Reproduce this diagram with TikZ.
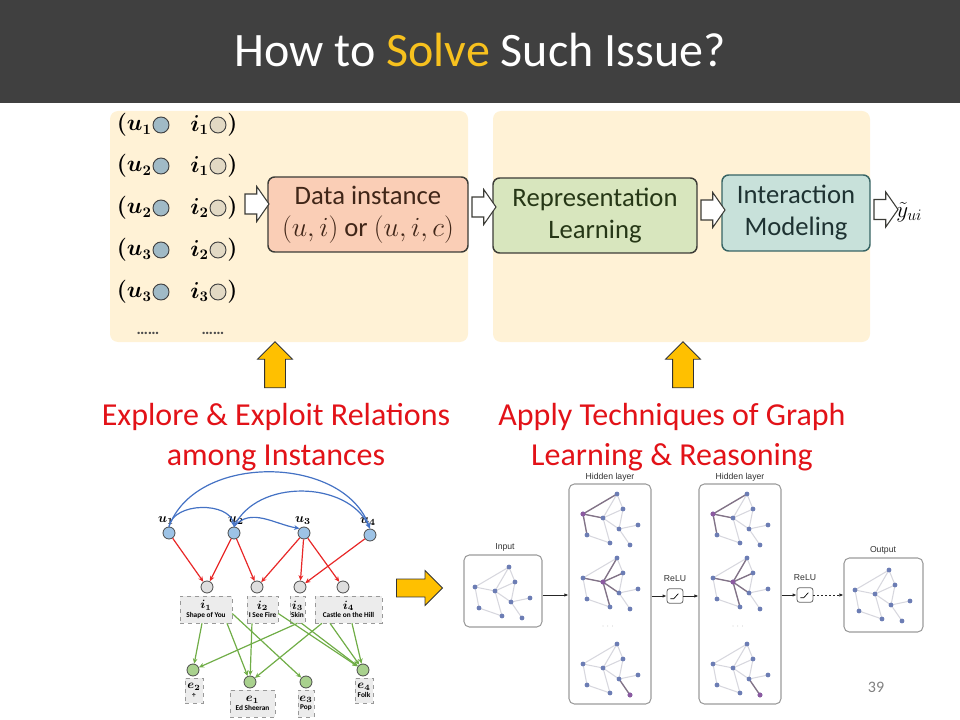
\documentclass[tikz,border=0pt]{standalone}
\usepackage{fontspec}
\setmainfont{Carlito}
\newfontfamily\helv{Liberation Sans}
\usepackage{bm}
\usetikzlibrary{shapes.arrows,arrows.meta}
\definecolor{hdr}{RGB}{64,64,64}
\definecolor{solvec}{RGB}{247,193,30}
\definecolor{panelc}{RGB}{255,242,214}
\definecolor{datafill}{RGB}{250,206,182}
\definecolor{datatxt}{RGB}{64,38,24}
\definecolor{repfill}{RGB}{216,230,190}
\definecolor{reptxt}{RGB}{38,55,22}
\definecolor{intfill}{RGB}{200,225,218}
\definecolor{intdraw}{RGB}{55,100,100}
\definecolor{inttxt}{RGB}{30,50,50}
\definecolor{boxdraw}{RGB}{60,60,55}
\definecolor{ucol}{RGB}{160,186,198}
\definecolor{icol}{RGB}{226,217,196}
\definecolor{redt}{RGB}{226,18,24}
\definecolor{ambr}{RGB}{255,192,0}
\definecolor{bluearc}{RGB}{68,114,196}
\definecolor{redarr}{RGB}{232,40,40}
\definecolor{greenarr}{RGB}{112,173,71}
\definecolor{ublue}{RGB}{157,195,230}
\definecolor{igray}{RGB}{222,222,222}
\definecolor{egreen}{RGB}{169,209,142}
\definecolor{lblbox}{RGB}{236,236,236}
\definecolor{gnodec}{RGB}{108,125,180}
\definecolor{hnodec}{RGB}{140,90,160}
\definecolor{gedgec}{RGB}{215,215,222}
\definecolor{hedgec}{RGB}{130,115,135}
\definecolor{gbox}{RGB}{155,155,155}
\definecolor{gtxt}{RGB}{50,50,50}
\newcommand\gcngraph[5]{%
\begin{scope}[shift={(#1,#2)}]
 \path (48,10) coordinate (#3A) (14,30) coordinate (#3B) (34,34) coordinate (#3C)
       (54,25) coordinate (#3D) (50,45) coordinate (#3E) (69,41) coordinate (#3F)
       (18,51) coordinate (#3G) (41,59) coordinate (#3H) (61,61) coordinate (#3I);
 \draw[gedge] (#3A)--(#3B) (#3A)--(#3C) (#3A)--(#3D) (#3B)--(#3C) (#3B)--(#3G)
   (#3C)--(#3D) (#3C)--(#3E) (#3C)--(#3H) (#3D)--(#3E) (#3E)--(#3F) (#3E)--(#3I) (#3G)--(#3H);
 #4
 \node[gnode] (#3nA) at (#3A) {}; \node[gnode] (#3nB) at (#3B) {}; \node[gnode] (#3nC) at (#3C) {};
 \node[gnode] (#3nD) at (#3D) {}; \node[gnode] (#3nE) at (#3E) {}; \node[gnode] (#3nF) at (#3F) {};
 \node[gnode] (#3nG) at (#3G) {}; \node[gnode] (#3nH) at (#3H) {}; \node[gnode] (#3nI) at (#3I) {};
 #5
\end{scope}}
\begin{document}
\begin{tikzpicture}[x=0.75pt,y=-0.75pt,
  panel/.style={fill=panelc, rounded corners=6pt},
  flowbox/.style={draw=boxdraw, line width=1.1pt, rounded corners=5pt, align=center,
     font=\fontsize{20}{24}\selectfont, inner sep=0pt},
  hollow/.style={single arrow, draw=boxdraw, fill=white, line width=0.8pt,
     minimum height=18pt, single arrow head extend=5.6pt,
     single arrow tip angle=110, inner xsep=0pt, inner ysep=7.1pt},
  yarrow/.style={single arrow, draw=black!80, fill=ambr, line width=0.6pt,
     minimum height=34.5pt, single arrow head extend=5.25pt,
     rotate=90, inner xsep=0pt, inner ysep=7.5pt},
  oarrow/.style={single arrow, draw=black!80, fill=ambr, line width=0.6pt,
     minimum height=34.5pt, single arrow head extend=6.4pt,
     inner xsep=0pt, inner ysep=6.4pt},
  listtxt/.style={font=\fontsize{16}{18}\selectfont, inner sep=0pt},
  ucircle/.style={shape=circle, draw=black!75, fill=ucol, line width=0.7pt, minimum size=12pt, inner sep=0pt},
  icircle/.style={shape=circle, draw=black!75, fill=icol, line width=0.7pt, minimum size=12pt, inner sep=0pt},
  redtxt/.style={text=redt, font=\fontsize{24}{30}\selectfont, anchor=base, inner sep=0pt},
  unode/.style={shape=circle, draw=black!70, fill=ublue, line width=0.6pt, minimum size=9pt, inner sep=0pt},
  inode/.style={shape=circle, draw=black!70, fill=igray, line width=0.6pt, minimum size=9pt, inner sep=0pt},
  enode/.style={shape=circle, draw=black!70, fill=egreen, line width=0.6pt, minimum size=9pt, inner sep=0pt},
  lbl/.style={draw=black!40, dashed, fill=lblbox, line width=0.4pt, inner sep=0pt, align=center,
     font=\fontsize{5.5}{6.5}\selectfont\bfseries, minimum height=20.25pt},
  ulbl/.style={font=\fontsize{10}{11}\selectfont, inner sep=0pt},
  bluea/.style={draw=bluearc, line width=0.9pt, -{Stealth[length=4pt,width=3.5pt]}},
  reda/.style={draw=redarr, line width=0.9pt, -{Stealth[length=4pt,width=3.5pt]}},
  greena/.style={draw=greenarr, line width=0.9pt, -{Stealth[length=4pt,width=3.5pt]}},
  gnode/.style={shape=circle, fill=gnodec, inner sep=0pt, minimum size=3.6pt},
  hnode/.style={shape=circle, fill=hnodec, inner sep=0pt, minimum size=3.6pt},
  gedge/.style={draw=gedgec, line width=0.8pt},
  hedge/.style={draw=hedgec, line width=1pt},
  gframe/.style={draw=gbox, line width=0.8pt, rounded corners=4pt, inner sep=0pt},
  gl/.style={font=\helv\fontsize{6.5}{7}\selectfont, text=gtxt, inner sep=0pt},
  garr/.style={draw=black!85, line width=0.6pt, -{Latex[length=3pt,width=2.5pt]}},
  relubox/.style={draw=black!60, line width=0.6pt, rounded corners=2pt, minimum width=12pt, minimum height=11pt, inner sep=0pt, fill=white}
]
\useasboundingbox (0,0) rectangle (960,720);
% header
\fill[hdr] (0,0) rectangle (960,103);
\node[font=\fontsize{36}{40}\selectfont, text=white, anchor=base, inner sep=0pt] (title) at (480,67)
  {How to \textcolor{solvec}{Solve} Such Issue?};
% panels
\fill[panel] (110,111) rectangle (468,342);
\fill[panel] (493,111) rectangle (870,342);
% list
\node[listtxt, anchor=east] (lua) at (152,125) {$\bm{(u_1}$};
\node[listtxt, anchor=east] (lub) at (152,166) {$\bm{(u_2}$};
\node[listtxt, anchor=east] (luc) at (152,208) {$\bm{(u_2}$};
\node[listtxt, anchor=east] (lud) at (152,250) {$\bm{(u_3}$};
\node[listtxt, anchor=east] (lue) at (152,292) {$\bm{(u_3}$};
\node[ucircle] (uca) at (161,125) {};
\node[ucircle] (ucb) at (161,166) {};
\node[ucircle] (ucc) at (161,208) {};
\node[ucircle] (ucd) at (161,250) {};
\node[ucircle] (uce) at (161,292) {};
\node[listtxt, anchor=east] (lia) at (209,125) {$\bm{i_1}$};
\node[listtxt, anchor=east] (lib) at (209,166) {$\bm{i_1}$};
\node[listtxt, anchor=east] (lic) at (209,208) {$\bm{i_2}$};
\node[listtxt, anchor=east] (lid) at (209,250) {$\bm{i_2}$};
\node[listtxt, anchor=east] (lie) at (209,292) {$\bm{i_3}$};
\node[icircle] (ica) at (218,125) {};
\node[icircle] (icb) at (218,166) {};
\node[icircle] (icc) at (218,208) {};
\node[icircle] (icd) at (218,250) {};
\node[icircle] (ice) at (218,292) {};
\node[listtxt, anchor=west] (lra) at (227,125) {$\bm{)}$};
\node[listtxt, anchor=west] (lrb) at (227,166) {$\bm{)}$};
\node[listtxt, anchor=west] (lrc) at (227,208) {$\bm{)}$};
\node[listtxt, anchor=west] (lrd) at (227,250) {$\bm{)}$};
\node[listtxt, anchor=west] (lre) at (227,292) {$\bm{)}$};
\node[font=\fontsize{12}{14}\selectfont\bfseries, text=black!70] (dots1) at (148,333) {……};
\node[font=\fontsize{12}{14}\selectfont\bfseries, text=black!70] (dots2) at (213,333) {……};
% flow boxes
\node[flowbox, fill=datafill, text=datatxt, minimum width=150pt, minimum height=56.25pt] (data) at (368,214.5)
  {Data instance\\$(u,i)$ or $(u,i,c)$};
\node[flowbox, fill=repfill, text=reptxt, minimum width=153pt, minimum height=56.25pt] (rep) at (595,215.5)
  {Representation\\Learning};
\node[flowbox, fill=intfill, draw=intdraw, text=inttxt, minimum width=111pt, minimum height=57pt] (int) at (796,213)
  {Interaction\\Modeling};
\node[anchor=west, font=\fontsize{18}{20}\selectfont, inner sep=0pt] (yout) at (896,212) {$\tilde{y}_{ui}$};
\node[hollow] (ar1) at (253.5,204) {};
\node[hollow] (ar2) at (480.5,207) {};
\node[hollow] (ar3) at (709.5,210) {};
\node[hollow] (ar4) at (882.5,209.5) {};
% yellow arrows
\node[yarrow] (ya1) at (275,370) {};
\node[yarrow] (ya2) at (683,370) {};
% red texts
\node[redtxt] (t1a) at (276,425) {Explore \& Exploit Relations};
\node[redtxt] (t1b) at (276,465) {among Instances};
\node[redtxt] (t2a) at (672,425) {Apply Techniques of Graph};
\node[redtxt] (t2b) at (672,465) {Learning \& Reasoning};
% bottom-left graph
\node[ulbl] (lu1) at (166,521) {$\bm{u_1}$};
\node[ulbl] (lu2) at (236,521) {$\bm{u_2}$};
\node[ulbl] (lu3) at (303,521) {$\bm{u_3}$};
\node[ulbl] (lu4) at (368,522) {$\bm{u_4}$};
\node[unode] (u1) at (169,533) {};
\node[unode] (u2) at (234,533) {};
\node[unode] (u3) at (304,533) {};
\node[unode] (u4) at (370,535) {};
\draw[bluea] (u1.north) to[out=70,in=110] (u4.north);
\draw[bluea] (u1.north) to[out=80,in=100] (u2.north);
\draw[bluea] (u2.north) to[out=65,in=115] (u4.north);
\draw[bluea] (u2.north) to[out=50,in=170] (u3.north west);
\node[inode] (i1) at (207,587) {};
\node[inode] (i2) at (257,587) {};
\node[inode] (i3) at (300,587) {};
\node[inode] (i4) at (343,587) {};
\draw[reda] (u1) -- (i1);
\draw[reda] (u2) -- (i1);
\draw[reda] (u2) -- (i2);
\draw[reda] (u3) -- (i2);
\draw[reda] (u3) -- (i3);
\draw[reda] (u3) -- (i4);
\draw[reda] (u4) -- (i3);
\node[enode] (e2) at (193,670) {};
\node[enode] (e1) at (250,682) {};
\node[enode] (e3) at (306,682) {};
\node[enode] (e4) at (363,670) {};
\node[lbl, minimum width=39pt] (i1b) at (206,609.5) {{\fontsize{9}{9}\selectfont$\bm{i_1}$}\\Shape of You};
\node[lbl, minimum width=23.25pt] (i2b) at (262.5,609.5) {{\fontsize{9}{9}\selectfont$\bm{i_2}$}\\I See Fire};
\node[lbl, minimum width=11.25pt] (i3b) at (297.5,609.5) {{\fontsize{9}{9}\selectfont$\bm{i_3}$}\\Skin};
\node[lbl, minimum width=50.25pt] (i4b) at (348.5,609.5) {{\fontsize{9}{9}\selectfont$\bm{i_4}$}\\Castle on the Hill};
\draw[greena] ([xshift=-3pt]i1b.south) -- (e2);
\draw[greena] ([xshift=15.75pt]i1b.south) -- (e1);
\draw[greena] ([yshift=-3pt]i1b.east) -- (e3);
\draw[greena] ([xshift=-7.9pt]i2b.south) -- (e1);
\draw[greena] ([yshift=-3pt]i2b.east) -- (e4);
\draw[greena] (i3b.south) -- (e2);
\draw[greena] ([xshift=3pt]i3b.south) -- (e4);
\draw[greena] ([xshift=-19.9pt]i4b.south) -- (e1);
\draw[greena] ([xshift=-13.9pt]i4b.south) -- (e4);
\draw[greena] ([xshift=2.6pt]i4b.south) -- (e4);
\node[lbl, minimum width=13.5pt, minimum height=18.75pt] (e2b) at (194,690.5) {{\fontsize{9}{9}\selectfont$\bm{e_2}$}\\÷};
\node[lbl, minimum width=33.75pt] (e1b) at (252.5,703.5) {{\fontsize{9}{9}\selectfont$\bm{e_1}$}\\Ed Sheeran};
\node[lbl, minimum width=12pt] (e3b) at (306,703.5) {{\fontsize{9}{9}\selectfont$\bm{e_3}$}\\Pop};
\node[lbl, minimum width=13.5pt, minimum height=18.75pt] (e4b) at (364,690.5) {{\fontsize{9}{9}\selectfont$\bm{e_4}$}\\Folk};
% orange arrow
\node[oarrow] (oa) at (415,588) {};
% GCN figure
\node[gframe, minimum width=58.5pt, minimum height=54pt] (inbox) at (503,591) {};
\node[gframe, minimum width=61.5pt, minimum height=165pt] (h1box) at (610,594) {};
\node[gframe, minimum width=61.5pt, minimum height=165pt] (h2box) at (740,594) {};
\node[gframe, minimum width=59.25pt, minimum height=55.5pt] (outbox) at (883.5,595) {};
\node[relubox] (relu1) at (675,596) {};
\node[relubox] (relu2) at (805,595) {};
\draw[line width=0.5pt] ([xshift=-3.5pt,yshift=-2pt]relu1.center) -- ++(3.5,0) -- ++(4.5,-5);
\draw[line width=0.5pt] ([xshift=-3.5pt,yshift=-2pt]relu2.center) -- ++(3.5,0) -- ++(4.5,-5);
\node[gl] (linput) at (505,547) {Input};
\node[gl] (lh1) at (610,477) {Hidden layer};
\node[gl] (lh2) at (740,477) {Hidden layer};
\node[gl] (lrelu1) at (675,579) {ReLU};
\node[gl] (lrelu2) at (805,578) {ReLU};
\node[gl] (lout) at (883,550) {Output};
\coordinate (gy) at (0,595);
\draw[garr] (inbox.east |- gy) -- (h1box.west |- gy);
\draw[garr] (h1box.east |- relu1) -- (relu1.west);
\draw[garr] (relu1.east) -- (h2box.west |- relu1);
\draw[garr] (h2box.east |- relu2) -- (relu2.west);
\draw[garr, dash pattern=on 1.5pt off 1.5pt] (relu2.east) -- (outbox.west |- relu2);
\gcngraph{461}{557}{in}{}{}
\gcngraph{841}{560}{out}{}{}
\gcngraph{569}{484}{ha}{\draw[hedge] (haB)--(haA) (haB)--(haC) (haB)--(haG);}{\node[hnode] at (haB) {};}
\gcngraph{569}{548}{hb}{\draw[hedge] (hbC)--(hbA) (hbC)--(hbB) (hbC)--(hbD) (hbC)--(hbE) (hbC)--(hbH);}{\node[hnode] at (hbC) {};}
\gcngraph{569}{634}{hc}{\draw[hedge] (hcE)--(hcI);}{\node[hnode] at (hcI) {};}
\gcngraph{699}{484}{hd}{\draw[hedge] (hdB)--(hdA) (hdB)--(hdC) (hdB)--(hdG);}{\node[hnode] at (hdB) {};}
\gcngraph{699}{548}{he}{\draw[hedge] (heC)--(heA) (heC)--(heB) (heC)--(heD) (heC)--(heE) (heC)--(heH);}{\node[hnode] at (heC) {};}
\gcngraph{699}{634}{hf}{\draw[hedge] (hfE)--(hfI);}{\node[hnode] at (hfI) {};}
\node[gl, text=black!35] (hdots1) at (608,627) {$\cdots$};
\node[gl, text=black!35] (hdots2) at (738,627) {$\cdots$};
\node[font=\fontsize{12}{14}\selectfont, text=black!50, inner sep=0pt] (pnum) at (876,687) {39};
\end{tikzpicture}
\end{document}
